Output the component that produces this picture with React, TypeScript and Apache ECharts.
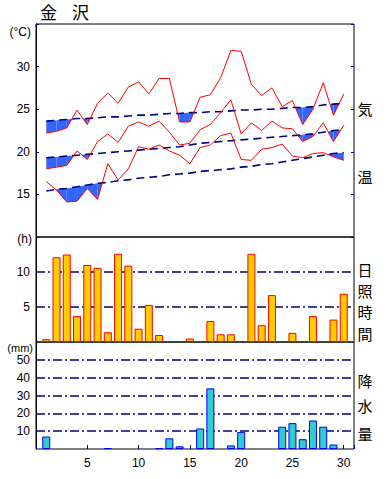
import React, { useEffect, useRef } from "react";
import * as echarts from "echarts";

const days = [1,2,3,4,5,6,7,8,9,10,11,12,13,14,15,16,17,18,19,20,21,22,23,24,25,26,27,28,29,30];

const maxTemp = [22.2,22.4,22.8,24.9,23.2,25.7,26.9,25.7,27.6,28.2,26.8,28.6,28.6,23.5,23.5,26.4,26.7,28.7,31.9,31.8,27.9,26.6,27.5,25.3,26.0,23.2,25.0,28.1,24.3,26.8];
const meanTemp = [18.0,18.2,18.4,20.1,19.1,21.2,22.1,21.1,23.0,23.5,23.0,23.6,22.3,20.8,21.0,22.6,23.2,24.6,26.1,22.1,23.4,22.5,23.6,22.8,22.7,21.2,21.8,23.4,21.2,23.1];
const minTemp = [16.5,15.5,14.1,14.2,15.7,14.4,18.6,16.7,18.0,20.6,20.3,20.8,20.1,19.6,18.6,20.5,20.8,21.9,22.2,19.1,19.0,20.3,20.5,20.9,19.5,19.3,19.8,19.9,19.4,19.0];

const normalMax = [23.6,23.7,23.8,23.9,23.9,24.0,24.1,24.1,24.2,24.3,24.3,24.4,24.5,24.5,24.6,24.6,24.7,24.7,24.8,24.9,24.9,25.0,25.0,25.1,25.2,25.2,25.3,25.5,25.6,25.7];
const normalMean = [19.3,19.4,19.5,19.6,19.7,19.8,19.9,20.0,20.1,20.2,20.3,20.4,20.5,20.6,20.8,21.0,21.1,21.2,21.3,21.4,21.5,21.6,21.7,21.8,21.9,22.0,22.1,22.3,22.5,22.6];
const normalMin = [15.4,15.6,15.7,15.9,16.1,16.3,16.4,16.6,16.7,16.9,17.0,17.1,17.3,17.4,17.5,17.7,17.8,17.9,18.0,18.2,18.3,18.5,18.6,18.8,19.0,19.2,19.4,19.6,19.8,19.9];

const sunshine = [0.4,12.1,12.5,3.7,11.0,10.6,1.4,12.6,10.9,1.9,5.3,1.0,0,0,0.5,0,3.0,1.1,1.1,0,12.6,2.4,6.7,0,1.3,0,3.7,0,3.2,6.9];
const precip = [7.0,0,0,0,0,0,0.5,0,0,0,0,0.5,6.0,1.5,0,11.5,34.0,0,2.0,9.5,0,0,0,12.5,14.5,5.5,16.0,12.5,2.5,0];

const tempTicks = [15, 20, 25, 30];
const sunTicks = [5, 10];
const rainTicks = [10, 20, 30, 40, 50];
const dayTicks = [5, 10, 15, 20, 25, 30];

const NAVY = "#000080";
const FONT = "'Liberation Sans', 'Noto Sans CJK JP', sans-serif";
const JP = "'Noto Sans CJK JP', sans-serif";
const DASHDOT = [9, 3, 2, 3];

function pairs(vals: number[], skipZero = false) {
  const out: number[][] = [];
  days.forEach((d, i) => {
    if (!skipZero || vals[i] > 0) out.push([d, vals[i]]);
  });
  return out;
}

function fillSeries(actual: number[], normal: number[]) {
  const segs = days.slice(0, -1).map((_, i) => [i]);
  return {
    type: "custom",
    xAxisIndex: 0,
    yAxisIndex: 0,
    silent: true,
    z: 1,
    data: segs,
    renderItem: (params: any, api: any) => {
      const i = api.value(0);
      const d0 = days[i], d1 = days[i + 1];
      const a0 = actual[i], a1 = actual[i + 1];
      const n0 = normal[i], n1 = normal[i + 1];
      const e0 = n0 - a0, e1 = n1 - a1;
      let pts: number[][] = [];
      if (e0 <= 0 && e1 <= 0) return null;
      if (e0 >= 0 && e1 >= 0) {
        pts = [[d0, n0], [d1, n1], [d1, a1], [d0, a0]];
      } else {
        const t = e0 / (e0 - e1);
        const xc = d0 + t * (d1 - d0);
        const yc = n0 + t * (n1 - n0);
        if (e0 > 0) pts = [[d0, n0], [xc, yc], [d0, a0]];
        else pts = [[xc, yc], [d1, n1], [d1, a1]];
      }
      return {
        type: "polygon",
        shape: { points: pts.map((p) => api.coord(p)) },
        style: { fill: "#3366ff", stroke: "none" },
      };
    },
  };
}

function actualLine(vals: number[]) {
  return {
    type: "line",
    xAxisIndex: 0,
    yAxisIndex: 0,
    data: pairs(vals),
    symbol: "none",
    z: 4,
    lineStyle: { color: "#ff0000", width: 1 },
  };
}

function normalLine(vals: number[]) {
  return {
    type: "line",
    xAxisIndex: 0,
    yAxisIndex: 0,
    data: pairs(vals),
    symbol: "none",
    z: 3,
    lineStyle: { color: NAVY, width: 1.6, type: [8, 5] },
  };
}

function vText(chars: string[], ys: number[], size: number) {
  return chars.map((c, k) => ({
    type: "text",
    x: 365,
    y: ys[k],
    style: {
      text: c,
      fill: "#000",
      font: `${size}px ${JP}`,
      textAlign: "center",
      textVerticalAlign: "middle",
    },
  }));
}

export default function App() {
  const ref = useRef<HTMLDivElement>(null);
  useEffect(() => {
    if (!ref.current) return;
    const chart = echarts.init(ref.current, null, { renderer: "svg" });
    const grids = [
      { left: 36, right: 36, top: 24, height: 213 },
      { left: 36, right: 36, top: 237, height: 105 },
      { left: 36, right: 36, top: 342, height: 107 },
    ].map((g) => ({ ...g, show: true, borderColor: "#000", borderWidth: 1, backgroundColor: "transparent" }));

    const xAxis = [0, 1, 2].map((gi) => ({
      type: "value",
      gridIndex: gi,
      min: 0,
      max: 31,
      interval: 5,
      show: gi === 2,
      axisLine: { show: false },
      axisTick: {
        show: true,
        inside: true,
        length: 4,
        lineStyle: { color: NAVY, width: 1 },
      },
      axisLabel: {
        show: true,
        margin: 8,
        fontSize: 12,
        color: "#000",
        fontFamily: FONT,
        formatter: (v: number) => (dayTicks.includes(v) ? String(v) : ""),
      },
      splitLine: { show: false },
    }));

    const yLabel = (ticks: number[]) => ({
      margin: 6,
      fontSize: 12,
      color: "#000",
      fontFamily: FONT,
      formatter: (v: number) => (ticks.includes(v) ? String(v) : ""),
    });

    const yAxis = [
      {
        type: "value", gridIndex: 0, min: 10, max: 35, interval: 5,
        axisLine: { show: true, lineStyle: { color: "#000", width: 1 } },
        axisTick: { show: true, inside: true, length: 3, lineStyle: { color: NAVY, width: 1 } },
        axisLabel: yLabel(tempTicks),
        splitLine: { show: false },
      },
      {
        type: "value", gridIndex: 0, position: "right", min: 10, max: 35, interval: 5,
        axisLine: { show: false },
        axisTick: { show: true, inside: true, length: 3, lineStyle: { color: NAVY, width: 1 } },
        axisLabel: { show: false },
        splitLine: { show: false },
      },
      {
        type: "value", gridIndex: 1, min: 0, max: 15, interval: 5,
        axisLine: { show: true, lineStyle: { color: "#000", width: 1 } },
        axisTick: { show: false },
        axisLabel: yLabel(sunTicks),
        splitLine: { show: true, showMinLine: false, showMaxLine: false, lineStyle: { color: NAVY, width: 1.5, type: DASHDOT } },
      },
      {
        type: "value", gridIndex: 2, min: 0, max: 60, interval: 10,
        axisLine: { show: true, lineStyle: { color: "#000", width: 1 } },
        axisTick: { show: false },
        axisLabel: yLabel(rainTicks),
        splitLine: { show: true, showMinLine: false, showMaxLine: false, lineStyle: { color: NAVY, width: 1.5, type: DASHDOT } },
      },
    ];

    const series: any[] = [
      fillSeries(maxTemp, normalMax),
      fillSeries(meanTemp, normalMean),
      fillSeries(minTemp, normalMin),
      normalLine(normalMax),
      normalLine(normalMean),
      normalLine(normalMin),
      actualLine(maxTemp),
      actualLine(meanTemp),
      actualLine(minTemp),
      {
        type: "bar",
        xAxisIndex: 1,
        yAxisIndex: 2,
        data: pairs(sunshine, true),
        barWidth: 8,
        itemStyle: { color: "#ffcc00", borderColor: "#ff0000", borderWidth: 1 },
        z: 2,
      },
      {
        type: "bar",
        xAxisIndex: 2,
        yAxisIndex: 3,
        data: pairs(precip, true),
        barWidth: 8,
        itemStyle: { color: "#33cccc", borderColor: "#0000ff", borderWidth: 1 },
        z: 2,
      },
    ];

    const graphic: any[] = [
      { type: "text", x: 40, y: 11, style: { text: "金", fill: "#000", font: `17px ${JP}`, textAlign: "left", textVerticalAlign: "middle" } },
      { type: "text", x: 72, y: 11, style: { text: "沢", fill: "#000", font: `17px ${JP}`, textAlign: "left", textVerticalAlign: "middle" } },
      { type: "text", x: 31, y: 32, style: { text: "(°C)", fill: "#000", font: `12px ${FONT}`, textAlign: "right", textVerticalAlign: "middle" } },
      { type: "text", x: 32, y: 239, style: { text: "(h)", fill: "#000", font: `12px ${FONT}`, textAlign: "right", textVerticalAlign: "middle" } },
      { type: "text", x: 33, y: 348, style: { text: "(mm)", fill: "#000", font: `11px ${FONT}`, textAlign: "right", textVerticalAlign: "middle" } },
      ...vText(["気", "温"], [108, 176], 15),
      ...vText(["日", "照", "時", "間"], [269, 290, 311, 333], 15),
      ...vText(["降", "水", "量"], [380, 405, 433], 15),
    ];

    chart.setOption({
      animation: false,
      backgroundColor: "#fff",
      grid: grids,
      xAxis,
      yAxis,
      series,
      graphic,
    });
    return () => chart.dispose();
  }, []);
  return (
    <div
      ref={ref}
      style={{ position: "absolute", left: 0, top: 0, width: 390, height: 479, background: "#fff" }}
    />
  );
}
